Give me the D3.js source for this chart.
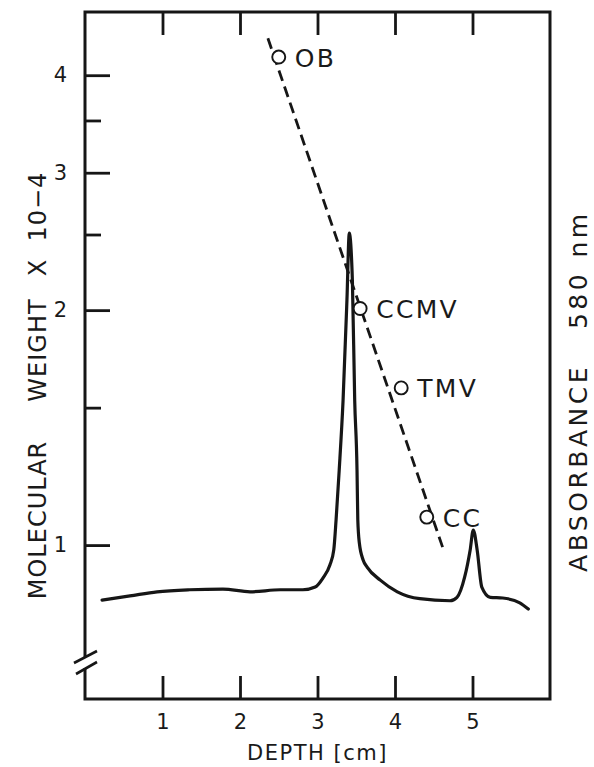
<!DOCTYPE html>
<html>
<head>
<meta charset="utf-8">
<script src="https://cdn.jsdelivr.net/npm/d3@7"></script>
<style>
  body { margin: 0; background: #fff; }
  svg { display: block; }
  text { font-family: "DejaVu Sans", sans-serif; fill: #1a1a1a; }
</style>
</head>
<body>
<div id="chart"></div>
<script>
// absorbance trace (depth in cm, absorbance in arbitrary units)
const traceDepth = [0.22, 0.58, 0.93, 1.35, 1.78, 2.13, 2.52, 2.81, 2.97, 3.07, 3.16, 3.21, 3.24, 3.28, 3.33, 3.38, 3.41,
  3.45, 3.48, 3.51, 3.52, 3.54, 3.59, 3.64, 3.81, 4.03, 4.32, 4.71, 4.80, 4.90, 4.97, 5.01, 5.06, 5.12, 5.23, 5.39, 5.61, 5.72];
const traceAbs = [0.144, 0.150, 0.156, 0.159, 0.160, 0.156, 0.159, 0.159, 0.163, 0.176, 0.195, 0.217, 0.261, 0.333, 0.435, 0.581, 0.678,
  0.610, 0.435, 0.333, 0.261, 0.227, 0.202, 0.192, 0.173, 0.156, 0.146, 0.143, 0.148, 0.178, 0.217, 0.246, 0.217, 0.163, 0.148, 0.147, 0.140, 0.131];

// marker proteins
const markerNames = ["OB", "CCMV", "TMV", "CC"];
const markerDepth = [2.50, 3.55, 4.08, 4.41];
const markerMW = [4.22, 2.01, 1.59, 1.086];

// calibration line ends
const fitDepth = [2.36, 4.62];
const fitMW = [4.46, 0.99];

const xTicks = [1, 2, 3, 4, 5];
const yMajor = [1, 2, 3, 4];
const yMinor = [1.5, 2.5, 3.5];

const W = 594, H = 767;
const m = { left: 85, right: 550, top: 12, bottom: 699 };

const svg = d3.select("#chart").append("svg")
  .attr("width", W).attr("height", H);

const x = d3.scaleLinear().domain([0, 6]).range([m.left, m.right]);
const yMW = d3.scaleLog().domain([0.635, 4.82]).range([m.bottom, m.top]);
const yAbs = d3.scaleLinear().domain([0, 1]).range([m.bottom, m.top]);

const ink = "#161616";

// axes (ticks pointing inward)
const xb = svg.append("g").attr("transform", `translate(0,${m.bottom})`)
  .call(d3.axisBottom(x).tickValues(xTicks).tickSize(-23).tickSizeOuter(0).tickPadding(15).tickFormat(d3.format("d")));
const xt = svg.append("g").attr("transform", `translate(0,${m.top})`)
  .call(d3.axisTop(x).tickValues(xTicks).tickSize(-23).tickSizeOuter(0).tickFormat(""));
const yl = svg.append("g").attr("transform", `translate(${m.left},0)`)
  .call(d3.axisLeft(yMW).tickValues(yMajor).tickSize(-25).tickSizeOuter(0).tickPadding(18).tickFormat(d3.format("d")));
const ym = svg.append("g").attr("transform", `translate(${m.left},0)`)
  .call(d3.axisLeft(yMW).tickValues(yMinor).tickSize(-16).tickSizeOuter(0).tickFormat(""));

[xb, xt, yl, ym].forEach(g => {
  g.select(".domain").remove();
  g.selectAll(".tick line").attr("stroke", ink).attr("stroke-width", 2.8);
  g.selectAll(".tick text").attr("font-size", 21).attr("fill", ink)
    .style("font-family", "DejaVu Sans, sans-serif");
});

// frame with axis break on the left side
const frame = svg.append("g").attr("stroke", ink).attr("stroke-width", 3).attr("fill", "none");
frame.append("path").attr("d", `M${m.left},657 V${m.top} H${m.right} V${m.bottom} H${m.left} V668`);
frame.append("line").attr("x1", m.left - 11).attr("y1", 663).attr("x2", m.left + 12).attr("y2", 651).attr("stroke-width", 2.6);
frame.append("line").attr("x1", m.left - 9).attr("y1", 674).attr("x2", m.left + 12).attr("y2", 662).attr("stroke-width", 2.6);

// absorbance trace
const trace = traceDepth.map((d, i) => [d, traceAbs[i]]);
svg.append("path")
  .datum(trace)
  .attr("fill", "none")
  .attr("stroke", ink)
  .attr("stroke-width", 3.2)
  .attr("stroke-linejoin", "round")
  .attr("stroke-linecap", "round")
  .attr("d", d3.line().x(d => x(d[0])).y(d => yAbs(d[1])).curve(d3.curveMonotoneX));

// dashed calibration line
svg.append("line")
  .attr("x1", x(fitDepth[0])).attr("y1", yMW(fitMW[0]))
  .attr("x2", x(fitDepth[1])).attr("y2", yMW(fitMW[1]))
  .attr("stroke", ink).attr("stroke-width", 2.8)
  .attr("stroke-dasharray", "11,6");

// markers
const markers = markerNames.map((n, i) => ({ name: n, d: markerDepth[i], mw: markerMW[i] }));
const mg = svg.selectAll("g.marker").data(markers).join("g").attr("class", "marker")
  .attr("transform", d => `translate(${x(d.d)},${yMW(d.mw)})`);
mg.append("circle").attr("r", 6.5).attr("fill", "#fff").attr("stroke", ink).attr("stroke-width", 1.9);
mg.append("text").attr("x", 16).attr("dy", "0.38em").attr("font-size", 25)
  .attr("letter-spacing", 2.3)
  .text(d => d.name);

// axis titles
svg.append("text")
  .attr("x", (m.left + m.right) / 2).attr("y", 760)
  .attr("text-anchor", "middle").attr("font-size", 21).attr("letter-spacing", 1.5)
  .text("DEPTH [cm]");

// rotated titles, word by word: [word, y centre]
const leftWords = [["MOLECULAR", 520], ["WEIGHT", 350], ["X  10−4", 224]];
const rightWords = [["ABSORBANCE", 468], ["580", 300], ["nm", 234]];

const rotWords = (words, xPos, cls, size, spacing) =>
  svg.selectAll("text." + cls).data(words).join("text").attr("class", cls)
    .attr("transform", d => `translate(${xPos},${d[1]}) rotate(-90)`)
    .attr("text-anchor", "middle").attr("font-size", size)
    .attr("letter-spacing", spacing)
    .style("white-space", "pre")
    .text(d => d[0]);

rotWords(leftWords, 46, "lt", 24, 1);
rotWords(rightWords, 587, "rt", 25, 3.5);
</script>
</body>
</html>
